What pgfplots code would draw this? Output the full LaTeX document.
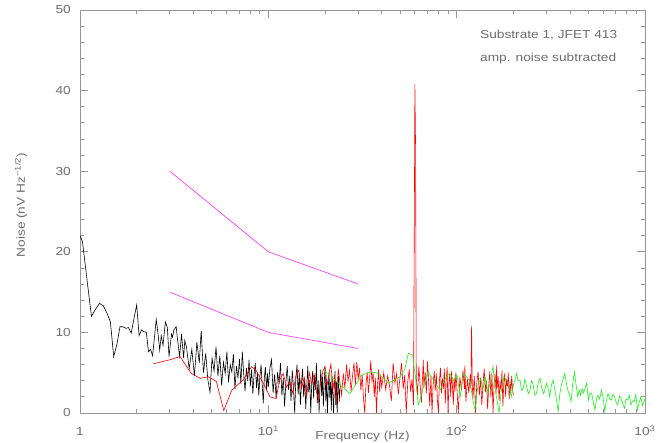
\documentclass[border=0pt]{standalone}
\usepackage{fontspec}
\setmainfont{Liberation Sans}[FakeStretch=1.18]
\usepackage{pgfplots}
\pgfplotsset{compat=1.18}
\definecolor{txt}{RGB}{110,110,110}
\definecolor{frm}{RGB}{150,150,150}
\definecolor{mag}{RGB}{255,70,255}
\definecolor{grn}{RGB}{30,240,30}
\newcommand\pf{\fontsize{11.6}{14}\selectfont}
\begin{document}
\begin{tikzpicture}
\begin{axis}[
 scale only axis, width=565pt, height=403pt,
 xmode=log, xmin=1, xmax=1000, ymin=0, ymax=50,
 axis line style={frm, line width=0.8pt},
 tick style={frm, line width=0.8pt},
 tick align=inside, xtick pos=both, ytick pos=both,
 xticklabel pos=bottom, yticklabel pos=left,
 major tick length=8pt, minor tick length=4pt,
 xtick={1,10,100,1000},
 xticklabels={1,10\textsuperscript{1},10\textsuperscript{2},10\textsuperscript{3}},
 minor xtick={2,3,4,5,6,7,8,9,20,30,40,50,60,70,80,90,200,300,400,500,600,700,800,900},
 ytick={0,10,20,30,40,50}, yticklabels={0,10,20,30,40,50},
 minor ytick={2,4,6,8,12,14,16,18,22,24,26,28,32,34,36,38,42,44,46,48},
 xticklabel style={anchor=base, inner sep=0pt, yshift=-23pt, font=\pf, text=txt},
 yticklabel style={anchor=east, inner sep=0pt, xshift=-9pt, font=\pf, text=txt},
]
\coordinate (ll) at (rel axis cs:0,0);
\coordinate (ur) at (rel axis cs:1,1);
\coordinate (ylab) at (rel axis cs:0,0.516);
\coordinate (xlab) at (rel axis cs:0.5,0);
% black
\addplot[black, line width=0.6pt] coordinates {
(1.0,22.0) (1.03,21.3) (1.09,16.5) (1.15,12.0) (1.21,12.9) (1.27,13.6) (1.33,13.3) (1.39,12.4) (1.45,11.3) (1.51,7.0)
(1.57,8.5) (1.63,10.7) (1.69,10.7) (1.75,10.5) (1.81,10.6) (1.87,9.9) (1.93,11.6) (2.00,13.4) (2.06,9.6) (2.12,10.3)
(2.18,10.1) (2.25,10.0) (2.31,7.6) (2.37,7.9) (2.43,7.1) (2.54,11.6) (2.60,9.7) (2.65,7.8) (2.70,9.6) (2.76,8.4)
(2.84,11.3) (2.91,10.6) (2.97,7.0) (3.06,9.8) (3.10,9.4) (3.15,10.3) (3.24,10.7) (3.30,9.0) (3.38,7.0) (3.46,9.8)
(3.55,6.8) (3.60,9.0)
(3.675,8.2) (3.8,5.5) (3.925,7.9) (4.05,4.6) (4.175,8.8) (4.3,6.2) (4.4,10.2) (4.525,5.0) (4.65,7.4) (4.775,4.1)
(4.9,2.6) (5.025,6.8) (5.15,5.2) (5.275,8.2) (5.4,4.6) (5.525,7.1) (5.65,3.4) (5.775,6.3) (5.9,4.9) (6.025,7.6)
(6.15,3.8) (6.275,6.0) (6.4,5.1) (6.525,7.3) (6.65,3.0) (6.775,5.8) (6.9,4.3) (7.025,6.7) (7.15,3.6) (7.275,7.6)
(7.4,4.9) (7.525,2.7) (7.65,5.6) (7.775,4.0) (7.9,6.6) (8.025,3.3) (8.15,5.4) (8.275,2.4) (8.4,4.8) (8.525,6.2)
(8.65,3.1) (8.775,5.0) (8.9,2.2) (9.025,4.6) (9.15,6.0) (9.275,3.5) (9.4,1.2) (9.525,4.4) (9.65,5.7) (9.775,2.8)
(9.9,4.9)
(10.0,3.2) (10.2,5.6) (10.4,6.6) (10.6,2.5) (10.8,4.8) (11.0,1.8) (11.2,5.1) (11.4,3.6) (11.6,6.2) (11.8,2.2)
(12.0,4.4) (12.2,0.8) (12.4,3.9) (12.6,5.8) (12.8,2.9) (13.0,4.6) (13.2,1.5) (13.4,5.3) (13.6,3.1) (13.8,0.0)
(14.0,4.2) (14.2,6.0) (14.4,2.3) (14.6,4.9) (14.8,1.0) (15.0,3.8) (15.2,5.5) (15.4,2.0) (15.6,4.4) (15.8,0.5)
(16.0,3.4) (16.2,5.8) (16.4,2.6) (16.6,4.1) (16.8,0.0) (17.0,3.6) (17.2,5.2) (17.4,1.8) (17.6,4.7) (17.8,2.9)
(18.0,6.2) (18.2,1.2) (18.4,4.0) (18.6,0.0) (18.8,3.3) (19.0,5.4) (19.2,2.1) (19.4,4.5) (19.6,0.8) (19.8,3.7)
(20.0,5.6) (20.2,1.4) (20.4,4.2) (20.6,0.0) (20.8,3.0) (21.0,5.0) (21.2,1.9) (21.4,3.9) (21.6,0.3) (21.8,4.6)
(22.0,2.2) (22.2,0.0) (22.4,3.5) (22.6,5.2) (22.8,1.0) (23.0,3.8) (23.2,0.0) (23.4,2.9) (23.6,4.6) (23.8,1.4)
(24.0,3.0)
};
% red
\addplot[red, line width=0.6pt] coordinates {
(2.45,6.1) (3.0,6.6) (3.4,7.0) (3.9,4.9) (4.35,4.3) (4.8,4.5) (5.3,3.9) (5.8,0.3) (6.4,2.85) (7.35,4.1)
(8.15,5.75) (8.6,5.3) (9.6,3.3) (10.2,2.0) (11.0,1.8)
(11.5,4.1) (12.0,4.9) (12.5,3.2) (13.0,3.9) (13.5,2.4) (14.0,4.6) (14.5,5.3) (15.0,3.0) (15.5,4.4) (16.0,2.1)
(16.5,5.0) (17.0,3.6) (17.5,4.8) (18.0,2.6) (18.5,1.6) (19.0,3.9) (19.5,5.2) (20.0,5.8) (20.5,3.4) (21.0,4.9)
(21.5,6.1) (22.0,2.9) (22.5,4.5) (23.0,1.2) (23.5,5.5) (24.0,3.8) (24.5,2.2) (25.0,4.9) (25.5,3.1) (26.0,6.0)
(26.5,4.0) (27.0,5.3) (27.5,2.7) (28.0,4.6) (28.5,6.2) (29.0,3.5) (29.5,6.3) (30.0,4.2) (30.5,5.6) (31.0,2.8)
(31.5,4.7) (32.0,1.9) (32.5,0.0) (33.0,3.6) (33.5,5.0) (34.0,2.5) (34.5,4.3) (35.0,6.5) (35.5,3.8) (36.0,5.1)
(36.5,2.0) (37.0,4.4) (37.5,0.0) (38.0,3.3) (38.5,5.4) (39.0,2.6) (39.5,4.8) (40.0,3.2)
(41,5.0) (42,2.9) (43,4.6) (44,3.4) (45,1.5) (46,6.2) (47,3.7) (48,4.9) (49,2.3) (50,4.4)
(51,6.2) (52,3.0) (53,4.7) (54,0.0) (55,3.9) (56,5.4) (57,2.6) (58,4.2) (59,1.0) (59.5,19.8)
(60.0,40.8) (60.5,33.2) (61,4.5) (62,2.2) (63,5.8) (64,3.5) (65,1.3) (66,4.8) (66.5,6.6) (67,3.2)
(68,5.1) (69,2.4) (70,6.4) (71,3.8) (72,0.9) (73,4.6) (74,0.0) (75,3.5) (76,5.2) (77,2.8)
(78,4.9) (79,1.7) (80,0.0) (81,4.0) (82,5.6) (83,2.5) (84,4.3) (85,3.0) (86,5.5) (87,1.2)
(88,4.1) (89,5.7) (90,0.0) (91,3.6) (92,4.9) (93,2.0) (94,5.2) (95,3.3) (96,1.0) (97,4.4)
(98,2.7) (99,5.0) (100,3.6)
(102,0.0) (104,4.5) (106,2.8) (108,5.3) (110,3.0) (110.5,5.9) (112,1.4) (114,4.2) (116,2.5) (118,4.8)
(119,3.0) (120,10.8) (121,3.5) (122,1.8) (124,4.6) (126,0.0) (128,3.9) (130,5.1) (132,2.2) (134,4.4)
(136,1.0) (138,3.7) (140,5.5) (142,2.6) (144,4.0) (146,0.5) (148,3.4) (150,5.2) (152,1.9) (154,4.7)
(156,0.0) (158,3.6) (160,4.9) (162,2.4) (163,5.9) (164,3.1) (166,4.6) (168,1.5) (170,4.0) (172,2.7)
(174,5.3) (176,0.8) (178,3.8) (180,4.9) (182,2.0) (184,4.2) (186,3.3) (188,5.0) (190,1.7) (192,3.9)
(194,2.5) (196,4.6) (198,3.0) (200,2.2)
};
% green
\addplot[grn, line width=0.6pt] coordinates {
(19.6,5.4) (27.1,2.4) (31.3,4.7) (34.6,5.1) (37.6,5.0) (40.5,4.4) (43.4,3.7) (46.8,4.1) (50.1,4.5) (53.0,5.4)
(55.4,7.4) (58.3,7.2) (60.4,4.5) (62.5,1.0) (64.7,2.0) (67.6,3.8) (70.8,5.1) (74.0,4.4) (77.9,3.5) (81.9,2.85)
(85.3,3.9) (88.6,4.6) (92.2,4.9) (96.3,4.0) (100.5,4.7) (104.4,2.0) (108.4,4.9) (113.0,4.5) (117.8,3.9) (121.0,2.0)
(125.1,0.4) (130.1,3.7) (134.5,4.2) (138.0,3.0) (142.0,4.4) (146.5,2.5) (151.0,4.0) (156.0,5.75) (160.0,3.0) (164.0,1.5)
(168.0,0.0) (172.0,2.5) (178.0,4.5) (184.0,4.1) (190.0,3.3) (195.0,2.0)
(201,3.6) (208,4.9) (212,4.0) (217,4.1) (221,2.8) (226,3.1) (230,4.2) (234,3.5) (240,2.4) (245,2.85)
(250,4.0) (254,3.7) (260,2.2) (265,2.4) (271,3.8) (277,4.3) (283,3.1) (290,2.4) (295,3.0) (299,3.7)
(305,3.2) (312,2.0) (318,3.4) (325,4.1) (332,2.9) (339,1.6) (346,0.2) (353,2.4) (360,3.5) (367,4.2)
(375,4.9) (382,3.8) (389,2.85) (397,2.3) (405,1.4) (413,3.6) (422,5.1) (431,3.4) (440,2.0) (447,2.9)
(455,2.2) (463,3.0) (472,2.5) (481,3.1) (490,3.7) (500,1.6) (510,2.5) (521,2.4) (531,1.4) (542,0.4)
(553,1.8) (564,2.2) (575,1.7) (587,2.85) (599,2.0) (611,0.2) (623,1.5) (636,2.4) (649,1.8) (662,1.6)
(675,2.3) (689,2.0) (703,1.3) (717,1.0) (731,2.1) (746,1.8) (761,1.2) (777,0.6) (793,1.7) (809,1.6)
(825,2.2) (842,1.0) (859,1.5) (877,1.4) (894,2.3) (912,0.4) (931,1.3) (950,2.0) (969,0.9) (988,1.4)
(1000,1.8)
};
% magenta guide lines
\addplot[mag, line width=0.7pt] coordinates {(3,30) (10,20) (30,16)};
\addplot[mag, line width=0.7pt] coordinates {(3,15) (10,10) (30,8)};
\node[anchor=base west, inner sep=0pt, font=\pf, text=txt] at (rel axis cs:0.708,0.9305) {Substrate 1, JFET 413};
\node[anchor=base west, inner sep=0pt, font=\pf, text=txt] at (rel axis cs:0.708,0.872) {amp. noise subtracted};
\end{axis}
\node[rotate=90, anchor=base, inner sep=0pt, font=\pf, text=txt] at ([xshift=-55pt]ylab) {Noise (nV Hz\textsuperscript{−1/2})};
\node[anchor=base, inner sep=0pt, font=\pf, text=txt] at ([yshift=-27pt]xlab) {Frequency (Hz)};
\pgfresetboundingbox
\path[use as bounding box] ([shift={(-80pt,-30pt)}]ll) rectangle ([shift={(13pt,10pt)}]ur);
\end{tikzpicture}
\end{document}
